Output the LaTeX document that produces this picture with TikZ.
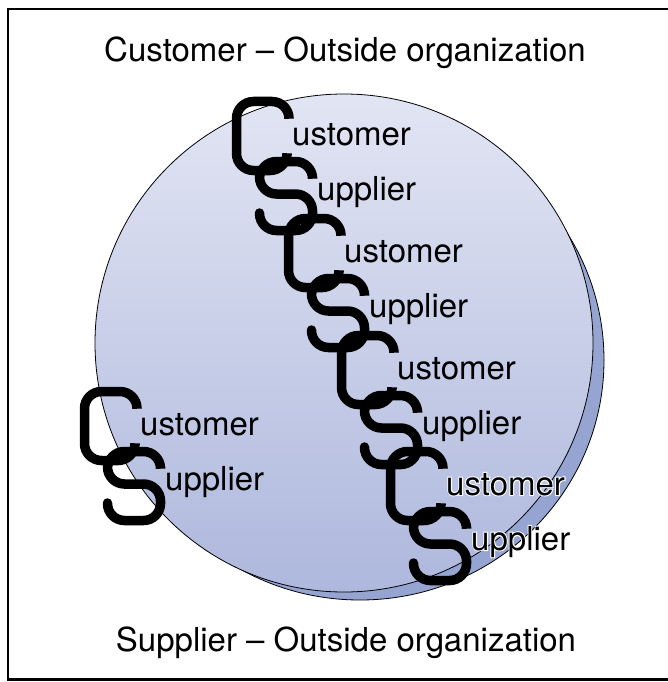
\documentclass[tikz,border=0pt]{standalone}
\usepackage{fontspec}
\setmainfont{TeX Gyre Heros}
\newfontfamily\halofont[FakeBold=6]{TeX Gyre Heros}
\usetikzlibrary{calc}
\definecolor{disktop}{RGB}{226,229,243}
\definecolor{diskbot}{RGB}{174,184,221}
\definecolor{diskback}{RGB}{150,164,210}
\tikzset{
  link/.style={line width=9.5pt, line cap=round, rounded corners=17pt},
  word/.style={anchor=base west, inner sep=0pt, font=\fontsize{33}{40}\selectfont},
  halo/.style={word, text=white, font=\fontsize{33}{40}\selectfont\halofont},
  banner/.style={anchor=base, inner sep=0pt, font=\fontsize{33}{40}\selectfont},
}
% one C-S pair, top left of the C at #1
\newcommand{\cslink}[1]{
  \draw[link, shift={(#1)}] (57,21) -- (57,4.5) -- (4.5,4.5) -- (4.5,73.5) -- (55,73.5) -- (55,58);
  \draw[link, shift={(#1)}] (80.5,80) -- (80.5,64.5) -- (27.5,64.5) -- (27.5,97) -- (80.5,97) -- (80.5,133.5) -- (27.5,133.5) -- (27.5,116);
}
\begin{document}
\begin{tikzpicture}[x=1pt,y=-1pt]
    \useasboundingbox (0,0) rectangle (667,682);

    % frame, open to the right
    \draw[line width=2.5pt] (700,9) -- (8,9) -- (8,679.5) -- (700,679.5);

    % disk
    \filldraw[fill=diskback, draw=black, line width=0.8pt] (360,360) ellipse [x radius=244pt, y radius=240pt];
    \shadedraw[top color=disktop, bottom color=diskbot, draw=black, line width=0.8pt] (344,343) circle (249pt);

    \node[banner] (outcust) at (345,62) {Customer -- Outside organization};
    \node[banner] (outsupp) at (346,651) {Supplier -- Outside organization};

    \coordinate (p0) at (80,387);
    \coordinate (p1) at (232,97);
    \coordinate (p2) at (284,214);
    \coordinate (p3) at (337,331);
    \coordinate (p4) at (386,447);

    % chain letters
    \foreach \p in {p0,p1,p2,p3,p4}
        \cslink{\p};

    % words
    \node[word] (cust0) at ([shift={(60,48)}]p0) {ustomer};
    \node[word] (supp0) at ([shift={(85,103)}]p0) {upplier};
    \node[word] (cust1) at ([shift={(60,48)}]p1) {ustomer};
    \node[word] (supp1) at ([shift={(85,103)}]p1) {upplier};
    \node[word] (cust2) at ([shift={(60,48)}]p2) {ustomer};
    \node[word] (supp2) at ([shift={(85,103)}]p2) {upplier};
    \node[word] (cust3) at ([shift={(60,48)}]p3) {ustomer};
    \node[word] (supp3) at ([shift={(85,103)}]p3) {upplier};

    % last pair has a white halo
    \node[halo] at ([shift={(60,48)}]p4) {ustomer};
    \node[halo] at ([shift={(85,103)}]p4) {upplier};
    \node[word] (cust4) at ([shift={(60,48)}]p4) {ustomer};
    \node[word] (supp4) at ([shift={(85,103)}]p4) {upplier};
\end{tikzpicture}
\end{document}
